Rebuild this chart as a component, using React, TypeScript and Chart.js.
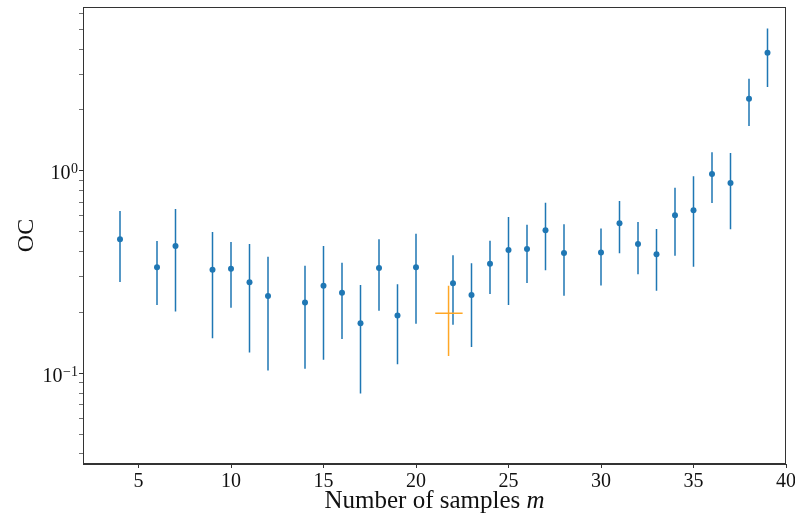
import { useEffect, useRef } from 'react';
import { Chart, registerables } from 'chart.js';

Chart.register(...registerables);

// Number of samples m
const samples = [4, 6, 7, 9, 10, 11, 12, 14, 15, 16, 17, 18, 19, 20, 22, 23, 24, 25, 26, 27, 28, 30, 31, 32, 33, 34, 35, 36, 37, 38, 39];
// OC estimate and its interval
const ocMean = [0.46, 0.334, 0.426, 0.325, 0.329, 0.282, 0.241, 0.224, 0.271, 0.25, 0.177, 0.332, 0.193, 0.334, 0.279, 0.244, 0.348, 0.407, 0.412, 0.509, 0.393, 0.396, 0.551, 0.436, 0.388, 0.604, 0.639, 0.966, 0.872, 2.27, 3.83];
const ocLow = [0.283, 0.218, 0.202, 0.149, 0.211, 0.127, 0.1035, 0.1054, 0.1167, 0.148, 0.0796, 0.204, 0.111, 0.176, 0.174, 0.135, 0.247, 0.218, 0.2795, 0.323, 0.242, 0.272, 0.392, 0.3085, 0.256, 0.3815, 0.336, 0.695, 0.515, 1.669, 2.6];
const ocHigh = [0.634, 0.451, 0.649, 0.499, 0.446, 0.436, 0.377, 0.34, 0.426, 0.352, 0.273, 0.46, 0.276, 0.49, 0.383, 0.35, 0.452, 0.593, 0.543, 0.697, 0.545, 0.519, 0.711, 0.56, 0.517, 0.827, 0.942, 1.237, 1.227, 2.85, 5.05];

// Reference (orange) cross
const refX = [21.76];
const refXLow = [21.04];
const refXHigh = [22.52];
const refY = [0.198];
const refYLow = [0.122];
const refYHigh = [0.271];

// Axis ticks
const xTicks = [5, 10, 15, 20, 25, 30, 35, 40];
const yMajorTicks = [0.1, 1];
const yMinorTicks = [0.04, 0.05, 0.06, 0.07, 0.08, 0.09, 0.2, 0.3, 0.4, 0.5, 0.6, 0.7, 0.8, 0.9, 2, 3, 4, 5, 6];
const yMajorExp = ['\u22121', '0'];

const FONT = "'Liberation Serif', 'DejaVu Serif', serif";
const TEXT = '#111';
const SPINE = '#333';

const overlay = {
  id: 'overlay',
  afterDraw(chart: any) {
    const { ctx, chartArea } = chart;
    const ys = chart.scales.y;
    ctx.save();
    // frame
    ctx.strokeStyle = SPINE;
    ctx.lineWidth = 1;
    ctx.strokeRect(chartArea.left + 0.5, chartArea.top + 0.5, chartArea.right - chartArea.left - 1, chartArea.bottom - chartArea.top - 1);
    // y tick labels 10^k
    ctx.fillStyle = TEXT;
    ctx.textBaseline = 'alphabetic';
    yMajorTicks.forEach((v, i) => {
      const py = ys.getPixelForValue(v);
      const right = chartArea.left - 5;
      ctx.font = `14px ${FONT}`;
      const ew = ctx.measureText(yMajorExp[i]).width;
      ctx.textAlign = 'right';
      ctx.fillText(yMajorExp[i], right, py + 2.5);
      ctx.font = `20px ${FONT}`;
      ctx.fillText('10', right - ew - 0.5, py + 8.3);
    });
    // y title
    ctx.save();
    ctx.translate(33, (chartArea.top + chartArea.bottom) / 2);
    ctx.rotate(-Math.PI / 2);
    ctx.font = `24px ${FONT}`;
    ctx.textAlign = 'center';
    ctx.fillText('OC', 0, 0);
    ctx.restore();
    // x title with italic m
    const part1 = 'Number of samples ';
    const part2 = 'm';
    ctx.font = `25px ${FONT}`;
    const w1 = ctx.measureText(part1).width;
    ctx.font = `italic 25px ${FONT}`;
    const w2 = ctx.measureText(part2).width;
    const cx = (chartArea.left + chartArea.right) / 2;
    const start = cx - (w1 + w2) / 2;
    ctx.textAlign = 'left';
    ctx.font = `25px ${FONT}`;
    ctx.fillText(part1, start, 508);
    ctx.font = `italic 25px ${FONT}`;
    ctx.fillText(part2, start + w1, 508);
    ctx.restore();
  },
};

const noPad = (s: any) => {
  s.paddingLeft = 0;
  s.paddingRight = 0;
  s.paddingTop = 0;
  s.paddingBottom = 0;
};

export default function App() {
  const ref = useRef<HTMLCanvasElement | null>(null);
  useEffect(() => {
    document.body.style.margin = '0';
    const errData: any[] = [];
    samples.forEach((x, i) => {
      errData.push({ x, y: ocLow[i] }, { x, y: ocHigh[i] }, { x, y: null });
    });
    const refData: any[] = [];
    refX.forEach((x, i) => {
      refData.push({ x: refXLow[i], y: refY[i] }, { x: refXHigh[i], y: refY[i] }, { x, y: null });
      refData.push({ x, y: refYLow[i] }, { x, y: refYHigh[i] }, { x, y: null });
    });
    const chart = new Chart(ref.current!, {
      type: 'scatter',
      data: {
        datasets: [
          {
            data: refData,
            showLine: true,
            spanGaps: false,
            borderColor: '#ffa726',
            borderWidth: 1.5,
            pointRadius: 0,
            order: 0,
          },
          {
            data: samples.map((x, i) => ({ x, y: ocMean[i] })),
            pointRadius: 3,
            pointBackgroundColor: '#1f77b4',
            pointBorderWidth: 0,
            order: 1,
          },
          {
            data: errData,
            showLine: true,
            spanGaps: false,
            borderColor: '#1f77b4',
            borderWidth: 1.5,
            pointRadius: 0,
            order: 2,
          },
        ],
      },
      options: {
        responsive: false,
        animation: false,
        layout: { padding: { top: 7, right: 9, left: 0, bottom: 0 } },
        plugins: { legend: { display: false }, tooltip: { enabled: false } },
        scales: {
          x: {
            type: 'linear',
            min: 2,
            max: 40,
            afterBuildTicks: (s: any) => {
              s.ticks = xTicks.map((v) => ({ value: v }));
            },
            afterFit: (s: any) => {
              s.height = 52;
              noPad(s);
            },
            grid: { display: true, drawOnChartArea: false, drawTicks: true, tickLength: 4, tickColor: SPINE },
            border: { display: true, color: SPINE, width: 1 },
            ticks: { font: { family: FONT, size: 20 }, color: TEXT, padding: 2, maxRotation: 0, autoSkip: false },
          },
          y: {
            type: 'logarithmic',
            min: 0.0357,
            max: 6.45,
            afterBuildTicks: (s: any) => {
              s.ticks = [...yMinorTicks, ...yMajorTicks].sort((a, b) => a - b).map((v) => ({ value: v, major: yMajorTicks.includes(v) }));
            },
            afterFit: (s: any) => {
              s.width = 83;
              noPad(s);
            },
            grid: {
              display: true,
              drawOnChartArea: false,
              drawTicks: true,
              tickLength: 4,
              tickColor: SPINE,
              tickWidth: (c: any) => (yMajorTicks.includes(c.tick?.value) ? 1 : 0.7),
            },
            border: { display: true, color: SPINE, width: 1 },
            ticks: { callback: () => '', autoSkip: false },
          },
        },
      },
      plugins: [overlay],
    });
    return () => chart.destroy();
  }, []);
  return (
    <div style={{ width: 795, height: 516 }}>
      <canvas ref={ref} width={795} height={516} />
    </div>
  );
}
